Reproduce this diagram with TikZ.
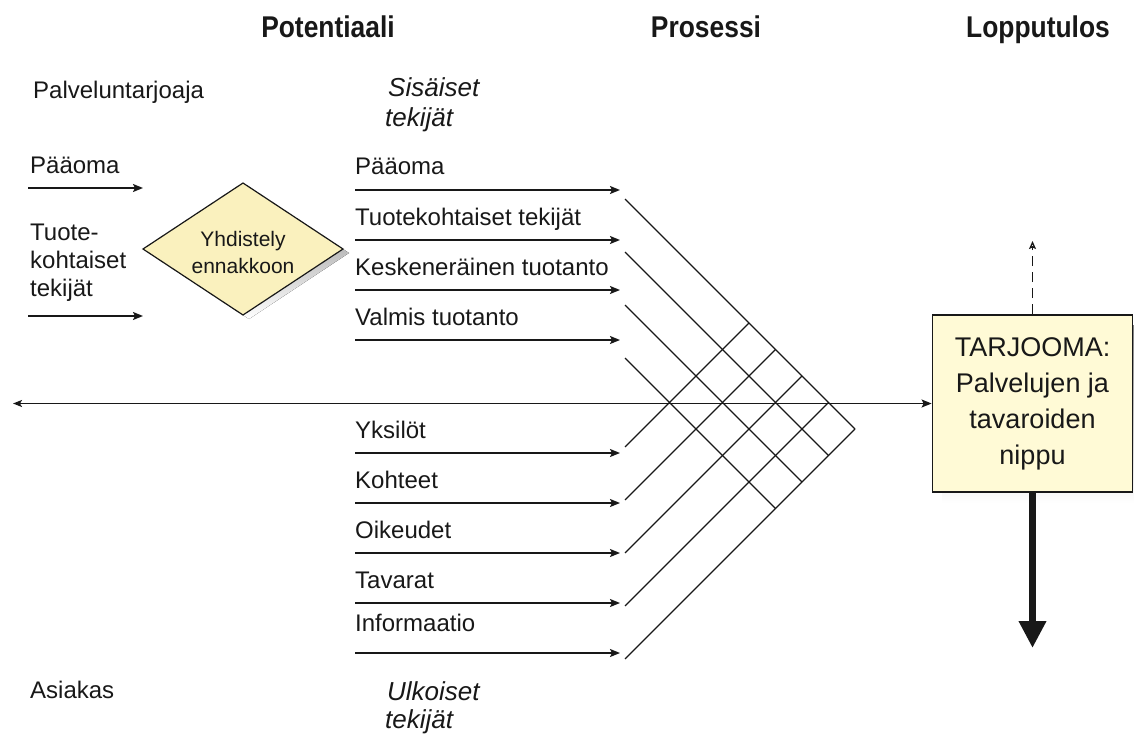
\documentclass[tikz,border=0pt]{standalone}
\usepackage{fontspec}
\setmainfont{Liberation Sans}
\newfontfamily\titlefont{Liberation Sans}[FakeStretch=0.88]
\usetikzlibrary{arrows.meta}
\definecolor{diafill}{HTML}{FAF1BE}
\definecolor{boxfill}{HTML}{FFFAD6}
\definecolor{shade}{HTML}{C8C8C8}
\definecolor{ink}{HTML}{181818}
\tikzset{
  lbl/.style={anchor=base west, inner sep=0pt, text=ink, font=\fontsize{24}{28}\selectfont},
  ital/.style={anchor=base west, inner sep=0pt, text=ink, font=\fontsize{26}{30}\selectfont\itshape},
  ttl/.style={anchor=base, inner sep=0pt, text=ink, font=\titlefont\bfseries\fontsize{30}{34}\selectfont},
  arr/.style={draw=ink, line width=1.6pt, -{Stealth[length=10pt,width=8pt,inset=2pt]}},
  gridline/.style={draw=ink, line width=1.3pt},
}
\begin{document}
\begin{tikzpicture}[x=1pt,y=-1pt]
\useasboundingbox (0,0) rectangle (1134,738);
% titles
\node[ttl] (t1) at (328,38) {Potentiaali};
\node[ttl] (t2) at (706,38) {Prosessi};
\node[ttl] (t3) at (1038,38) {Lopputulos};
% left column
\node[lbl] (pt) at (33,99) {Palveluntarjoaja};
\node[lbl] (lp) at (30,174) {Pääoma};
\coordinate (la1s) at (28,188); \coordinate (la1e) at (143,188);
\draw[arr] (la1s) -- (la1e);
\node[lbl] (lt1) at (30,240) {Tuote-};
\node[lbl] (lt2) at (30,268) {kohtaiset};
\node[lbl] (lt3) at (30,296) {tekijät};
\coordinate (la2s) at (28,316); \coordinate (la2e) at (143,316);
\draw[arr] (la2s) -- (la2e);
\node[lbl] (as) at (30,698) {Asiakas};
% diamond
\fill[shade] (149,253) -- (249,187) -- (349,253) -- (249,319) -- cycle;
\draw[draw=ink, line width=1.2pt, fill=diafill] (143,249) -- (243,183) -- (343,249) -- (243,315) -- cycle;
\node[inner sep=0pt, align=center, text=ink, font=\fontsize{21}{27}\selectfont] (dia) at (243,252) {Yhdistely\\ennakkoon};
% italic headings
\node[ital] (si1) at (388,97) {Sisäiset};
\node[ital] (si2) at (385,127) {tekijät};
\node[ital] (ul1) at (387,700) {Ulkoiset};
\node[ital] (ul2) at (385,728) {tekijät};
% middle labels and arrows
\foreach \n/\txt/\ay in {m1/Pääoma/190, m2/Tuotekohtaiset tekijät/240, m3/Keskeneräinen tuotanto/290, m4/Valmis tuotanto/340, m5/Yksilöt/453, m6/Kohteet/503, m7/Oikeudet/553, m8/Tavarat/603}{
  \node[lbl] (\n) at (355,\ay-15) {\txt};
  \coordinate (\n s) at (355,\ay); \coordinate (\n e) at (620,\ay);
  \draw[arr] (\n s) -- (\n e);
}
\node[lbl] (m9) at (355,631) {Informaatio};
\coordinate (m9s) at (355,653); \coordinate (m9e) at (620,653);
\draw[arr] (m9s) -- (m9e);
% grid
\foreach \k in {0,1,2,3}{
  \pgfmathsetmacro{\u}{199+53*\k}
  \pgfmathsetmacro{\t}{(659-\u)/2}
  \draw[gridline] (625,\u) -- (625+\t,\u+\t);
}
\foreach \j in {0,1,2,3,4}{
  \pgfmathsetmacro{\l}{447+53*\j}
  \pgfmathsetmacro{\t}{(\l-199)/2}
  \draw[gridline] (625,\l) -- (625+\t,\l-\t);
}
% box
\fill[shade] (942,325) rectangle (1150,503);
\node[draw=ink, line width=1.8pt, fill=boxfill, minimum width=200pt, minimum height=177pt, inner sep=0pt, align=center, text=ink, font=\fontsize{27}{36}\selectfont] (box) at (1032.5,403.5) {TARJOOMA:\\Palvelujen ja\\tavaroiden\\nippu};
% main line
\coordinate (lend) at (13,403.5);
\draw[draw=ink, line width=1.4pt, {Stealth[length=9pt,width=7pt,inset=2pt]}-{Stealth[length=10pt,width=8pt,inset=2pt]}] (lend) -- (box.west);
% dashed up arrow
\coordinate (dtop) at (1032.5,241);
\draw[draw=ink, line width=1.3pt, dash pattern=on 10pt off 6pt, -{Stealth[open,length=8pt,width=7pt,inset=1.5pt]}] (box.north) -- (dtop);
% thick down arrow
\coordinate (btip) at (1032.5,648);
\draw[draw=ink, fill=ink, line width=7pt, -{Triangle[length=27pt,width=26pt]}] (box.south) -- (btip);
\end{tikzpicture}
\end{document}
